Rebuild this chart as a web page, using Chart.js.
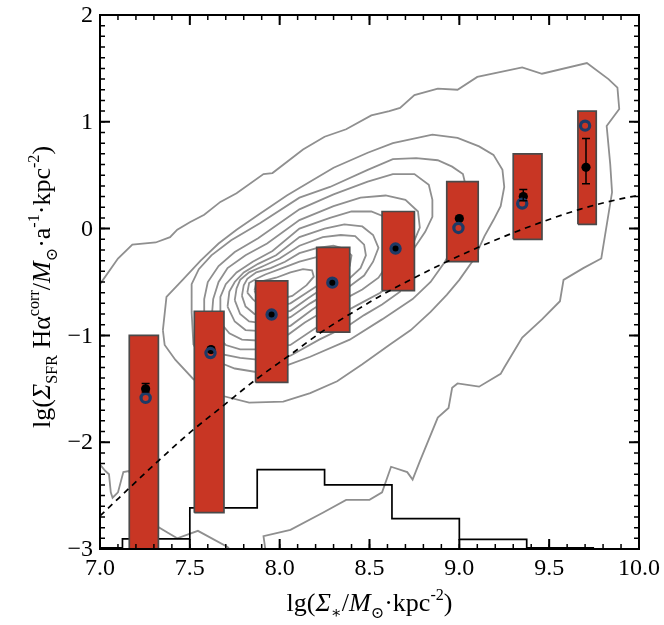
<!DOCTYPE html>
<html>
<head>
<meta charset="utf-8">
<script src="https://cdn.jsdelivr.net/npm/chart.js@4.4.0/dist/chart.umd.min.js"></script>
<style>
html, body { margin: 0; padding: 0; background: #fff; }
#wrap { width: 664px; height: 625px; }
</style>
</head>
<body>
<div id="wrap"><canvas id="myChart" width="664" height="625"></canvas></div>
<script>
// axis ticks
var xMajorTicks = [7.0, 7.5, 8.0, 8.5, 9.0, 9.5, 10.0];
var xTickLabels = ['7.0', '7.5', '8.0', '8.5', '9.0', '9.5', '10.0'];
var yMajorTicks = [-3, -2, -1, 0, 1, 2];
var yTickLabels = ['\u22123', '\u22122', '\u22121', '0', '1', '2'];

// red boxes (x range, y range)
var boxLeft  = [7.163, 7.525, 7.866, 8.206, 8.57, 8.93, 9.30, 9.66];
var boxRight = [7.325, 7.69, 8.045, 8.39, 8.75, 9.105, 9.46, 9.762];
var boxLow   = [-3.05, -2.66, -1.44, -0.97, -0.58, -0.31, -0.10, 0.04];
var boxHigh  = [-1.00, -0.774, -0.49, -0.175, 0.16, 0.44, 0.70, 1.10];

// black points with error bars (0 = too small to show)
var meanX   = [7.254, 7.618, 7.955, 8.293, 8.645, 9.00, 9.356, 9.705];
var meanY   = [-1.50, -1.133, -0.805, -0.506, -0.187, 0.094, 0.30, 0.574];
var errUp   = [0.05, 0, 0, 0, 0, 0, 0.065, 0.27];
var errDown = [0.03, 0, 0, 0, 0, 0, 0.04, 0.155];

// open blue circles
var ringX = [7.254, 7.615, 7.955, 8.293, 8.645, 8.995, 9.35, 9.70];
var ringY = [-1.585, -1.165, -0.805, -0.506, -0.187, 0.006, 0.234, 0.964];

// dashed relation
var dashX = [7.0, 7.315, 7.5, 7.685, 7.87, 8.06, 8.24, 8.48, 8.56, 8.93, 9.30, 9.67, 9.93, 10.0];
var dashY = [-2.69, -2.19, -1.91, -1.66, -1.41, -1.18, -0.96, -0.71, -0.63, -0.31, -0.04, 0.18, 0.29, 0.31];

// histogram (bin edges, heights)
var histEdges  = [7.0, 7.125, 7.5, 7.875, 8.25, 8.625, 9.0, 9.375, 9.75];
var histValues = [-2.99, -2.905, -2.615, -2.257, -2.40, -2.715, -2.91, -2.99];

// density contours, outer to inner
var contour1 = [[7.00,-0.52],[7.10,-0.28],[7.18,-0.15],[7.31,-0.13],[7.39,-0.08],[7.43,-0.01],[7.50,0.06],[7.58,0.13],[7.67,0.25],[7.76,0.33],[7.91,0.51],[7.96,0.52],[8.13,0.74],[8.25,0.86],[8.37,0.93],[8.51,1.06],[8.61,1.10],[8.67,1.13],[8.75,1.25],[8.88,1.31],[8.99,1.30],[9.10,1.42],[9.35,1.51],[9.46,1.45],[9.71,1.55],[9.83,1.40],[9.88,1.32],[9.89,1.12],[9.82,0.96],[9.84,0.60],[9.85,0.34],[9.79,-0.28],[9.69,-0.37],[9.58,-0.48],[9.56,-0.68],[9.46,-0.85],[9.35,-1.02],[9.25,-1.30],[9.23,-1.36],[9.11,-1.48],[8.99,-1.45],[8.96,-1.49],[8.94,-1.68],[8.88,-1.77],[8.78,-2.18],[8.74,-2.35],[8.71,-2.28],[8.62,-2.23],[8.57,-2.47],[8.50,-2.54],[8.37,-2.54],[8.24,-2.66],[8.06,-2.82],[7.91,-2.88],[7.92,-3.0]];
var contour1b = [[7.00,-2.21],[7.03,-2.27],[7.05,-2.30],[7.06,-2.47],[7.07,-2.52],[7.10,-2.47],[7.13,-2.28],[7.16,-2.27],[7.32,-2.79],[7.38,-2.85],[7.43,-2.90],[7.545,-2.83],[7.71,-2.98],[7.72,-3.0]];
var contour2 = [[7.35,-0.95],[7.37,-0.64],[7.46,-0.48],[7.56,-0.30],[7.66,-0.14],[7.76,-0.01],[7.89,0.14],[8.04,0.31],[8.11,0.38],[8.30,0.57],[8.49,0.71],[8.63,0.80],[8.85,0.88],[8.99,0.85],[9.11,0.77],[9.19,0.69],[9.24,0.55],[9.25,0.39],[9.23,0.21],[9.19,0.08],[9.14,-0.07],[9.08,-0.29],[9.00,-0.48],[8.93,-0.62],[8.84,-0.78],[8.73,-0.95],[8.61,-1.09],[8.46,-1.27],[8.32,-1.43],[8.17,-1.54],[8.02,-1.62],[7.83,-1.63],[7.69,-1.57],[7.52,-1.41],[7.42,-1.23],[7.36,-1.09],[7.35,-0.95]];
var contour3 = [[7.52,-1.09],[7.51,-0.78],[7.51,-0.52],[7.55,-0.38],[7.62,-0.25],[7.73,-0.11],[7.89,0.05],[8.11,0.29],[8.28,0.39],[8.49,0.55],[8.63,0.65],[8.76,0.66],[8.88,0.64],[8.96,0.58],[9.02,0.51],[9.04,0.37],[9.04,0.13],[8.99,-0.10],[8.92,-0.31],[8.84,-0.50],[8.74,-0.66],[8.57,-0.85],[8.39,-1.04],[8.17,-1.20],[8.04,-1.28],[7.86,-1.34],[7.75,-1.31],[7.69,-1.27],[7.58,-1.19],[7.52,-1.09]];
var contour4 = [[7.58,-0.96],[7.58,-0.66],[7.60,-0.50],[7.66,-0.35],[7.75,-0.22],[7.88,-0.09],[8.11,0.18],[8.30,0.32],[8.49,0.44],[8.63,0.51],[8.75,0.51],[8.83,0.41],[8.85,0.27],[8.85,0.11],[8.81,-0.03],[8.75,-0.18],[8.71,-0.34],[8.67,-0.59],[8.57,-0.71],[8.47,-0.81],[8.39,-0.90],[8.22,-1.04],[8.06,-1.19],[7.89,-1.23],[7.78,-1.21],[7.69,-1.18],[7.61,-1.09],[7.58,-0.96]];
var contour5 = [[7.62,-0.87],[7.63,-0.66],[7.66,-0.50],[7.71,-0.37],[7.81,-0.25],[7.93,-0.14],[8.11,0.08],[8.30,0.21],[8.45,0.29],[8.59,0.31],[8.70,0.27],[8.77,0.16],[8.78,0.01],[8.74,-0.15],[8.69,-0.31],[8.64,-0.48],[8.56,-0.60],[8.45,-0.70],[8.34,-0.80],[8.20,-0.93],[8.06,-1.09],[7.90,-1.13],[7.78,-1.13],[7.70,-1.09],[7.64,-0.99],[7.62,-0.87]];
var contour6 = [[7.67,-0.80],[7.67,-0.64],[7.70,-0.52],[7.76,-0.41],[7.85,-0.31],[7.96,-0.21],[8.11,0.00],[8.28,0.10],[8.40,0.16],[8.51,0.16],[8.60,0.10],[8.65,-0.01],[8.65,-0.15],[8.61,-0.31],[8.55,-0.46],[8.46,-0.57],[8.36,-0.66],[8.25,-0.77],[8.14,-0.88],[8.05,-0.99],[7.90,-1.05],[7.79,-1.04],[7.72,-0.98],[7.68,-0.90],[7.67,-0.80]];
var contour7 = [[7.71,-0.73],[7.72,-0.59],[7.75,-0.50],[7.80,-0.41],[7.88,-0.33],[7.98,-0.25],[8.11,-0.08],[8.25,0.00],[8.36,0.04],[8.46,0.02],[8.52,-0.06],[8.55,-0.18],[8.52,-0.31],[8.47,-0.44],[8.39,-0.54],[8.29,-0.64],[8.18,-0.76],[8.06,-0.91],[7.90,-0.96],[7.81,-0.95],[7.75,-0.87],[7.71,-0.73]];
var contour8 = [[7.75,-0.67],[7.76,-0.56],[7.78,-0.48],[7.83,-0.41],[7.91,-0.35],[8.00,-0.28],[8.11,-0.16],[8.24,-0.08],[8.34,-0.06],[8.42,-0.07],[8.47,-0.15],[8.48,-0.25],[8.45,-0.37],[8.38,-0.48],[8.28,-0.59],[8.17,-0.70],[8.06,-0.83],[7.92,-0.89],[7.83,-0.87],[7.78,-0.80],[7.75,-0.67]];
var contour9 = [[7.79,-0.63],[7.80,-0.53],[7.82,-0.47],[7.87,-0.41],[7.95,-0.37],[8.03,-0.31],[8.11,-0.23],[8.21,-0.18],[8.30,-0.16],[8.36,-0.19],[8.40,-0.25],[8.39,-0.35],[8.34,-0.45],[8.25,-0.55],[8.16,-0.65],[8.06,-0.77],[7.93,-0.81],[7.86,-0.80],[7.81,-0.73],[7.79,-0.63]];
var contour10 = [[7.82,-0.60],[7.83,-0.51],[7.87,-0.47],[7.92,-0.43],[8.00,-0.38],[8.11,-0.31],[8.20,-0.27],[8.26,-0.27],[8.30,-0.32],[8.29,-0.40],[8.24,-0.50],[8.15,-0.60],[8.06,-0.70],[7.96,-0.74],[7.89,-0.72],[7.85,-0.66],[7.82,-0.60]];
var contour11 = [[7.86,-0.58],[7.87,-0.51],[7.91,-0.49],[7.98,-0.46],[8.06,-0.41],[8.13,-0.38],[8.18,-0.39],[8.19,-0.45],[8.15,-0.53],[8.07,-0.63],[7.98,-0.67],[7.91,-0.66],[7.87,-0.62],[7.86,-0.58]];

var contours = [contour1, contour1b, contour2, contour3, contour4, contour5, contour6,
                contour7, contour8, contour9, contour10, contour11];

function pairs(list) {
    return list.map(function (p) { return {x: p[0], y: p[1]}; });
}

var datasets = [];

contours.forEach(function (c) {
    datasets.push({
        data: pairs(c),
        borderColor: '#8f8f8f',
        borderWidth: 1.8,
        pointRadius: 0,
        fill: false,
        tension: 0,
        order: 6
    });
});

var histPoints = [];
for (var i = 0; i < histValues.length; i++) {
    histPoints.push({x: histEdges[i], y: histValues[i]});
}
histPoints.push({x: histEdges[histEdges.length - 1], y: histValues[histValues.length - 1]});
datasets.push({
    data: histPoints,
    stepped: 'before',
    borderColor: '#000',
    borderWidth: 1.7,
    pointRadius: 0,
    fill: false,
    order: 5
});

for (var b = 0; b < boxLeft.length; b++) {
    datasets.push({
        data: [
            {x: boxLeft[b], y: boxLow[b]},
            {x: boxRight[b], y: boxLow[b]},
            {x: boxRight[b], y: boxHigh[b]},
            {x: boxLeft[b], y: boxHigh[b]},
            {x: boxLeft[b], y: boxLow[b]}
        ],
        borderColor: '#4a4a4a',
        borderWidth: 1.7,
        backgroundColor: '#c83624',
        fill: 'shape',
        pointRadius: 0,
        tension: 0,
        order: 4
    });
}

datasets.push({
    data: dashX.map(function (x, k) { return {x: x, y: dashY[k]}; }),
    borderColor: '#000',
    borderWidth: 1.7,
    borderDash: [6, 5],
    cubicInterpolationMode: 'monotone',
    pointRadius: 0,
    fill: false,
    order: 3
});

datasets.push({
    data: meanX.map(function (x, k) { return {x: x, y: meanY[k]}; }),
    showLine: false,
    pointRadius: 4.6,
    pointBackgroundColor: '#000',
    pointBorderColor: '#000',
    pointBorderWidth: 0,
    order: 2
});

datasets.push({
    data: ringX.map(function (x, k) { return {x: x, y: ringY[k]}; }),
    showLine: false,
    pointRadius: 4.6,
    pointBackgroundColor: 'rgba(0,0,0,0)',
    pointBorderColor: '#1d3a66',
    pointBorderWidth: 3.2,
    order: 1
});

var SERIF = '"Liberation Serif", "DejaVu Serif", serif';

function drawRich(ctx, segs, x, y, size, rotate) {
    ctx.save();
    ctx.translate(x, y);
    if (rotate) ctx.rotate(-Math.PI / 2);
    var total = 0;
    var items = segs.map(function (s) {
        var fs = (s.sub || s.sup) ? size * 0.62 : size;
        var font = (s.it ? 'italic ' : '') + fs + 'px ' + SERIF;
        ctx.font = font;
        var w = ctx.measureText(s.t).width;
        total += w;
        return {s: s, font: font, w: w};
    });
    var cx = -total / 2;
    ctx.fillStyle = '#000';
    ctx.textBaseline = 'alphabetic';
    ctx.textAlign = 'left';
    items.forEach(function (it) {
        ctx.font = it.font;
        var dy = it.s.sub ? size * 0.26 : (it.s.sup ? -size * 0.42 : 0);
        ctx.fillText(it.s.t, cx, dy);
        cx += it.w;
    });
    ctx.restore();
}

var xTitle = [
    {t: 'lg('}, {t: '\u03A3', it: true}, {t: '\u2217', sub: true}, {t: '/'},
    {t: 'M', it: true}, {t: '\u2299', sub: true}, {t: '\u00B7kpc'}, {t: '-2', sup: true}, {t: ')'}
];
var yTitle = [
    {t: 'lg('}, {t: '\u03A3', it: true}, {t: 'SFR', sub: true}, {t: ' H\u03B1'},
    {t: 'corr', sup: true}, {t: '/'}, {t: 'M', it: true}, {t: '\u2299', sub: true},
    {t: '\u00B7a'}, {t: '-1', sup: true}, {t: '\u00B7kpc'}, {t: '-2', sup: true}, {t: ')'}
];

var framePlugin = {
    id: 'frame',
    afterDatasetsDraw: function (chart) {
        var ctx = chart.ctx;
        var xs = chart.scales.x, ys = chart.scales.y;

        // error bars
        ctx.save();
        ctx.strokeStyle = '#000';
        ctx.lineWidth = 1.5;
        for (var k = 0; k < meanX.length; k++) {
            if (!errUp[k] && !errDown[k]) continue;
            var px = xs.getPixelForValue(meanX[k]);
            var top = ys.getPixelForValue(meanY[k] + errUp[k]);
            var bot = ys.getPixelForValue(meanY[k] - errDown[k]);
            ctx.beginPath();
            ctx.moveTo(px, top); ctx.lineTo(px, bot);
            ctx.moveTo(px - 4, top); ctx.lineTo(px + 4, top);
            ctx.moveTo(px - 4, bot); ctx.lineTo(px + 4, bot);
            ctx.stroke();
        }
        ctx.restore();
    },
    afterDraw: function (chart) {
        var ctx = chart.ctx;
        var xs = chart.scales.x, ys = chart.scales.y;
        var a = chart.chartArea;
        ctx.save();
        ctx.strokeStyle = '#000';
        ctx.lineWidth = 2;
        ctx.strokeRect(a.left, a.top, a.right - a.left, a.bottom - a.top);

        ctx.lineWidth = 1.5;
        ctx.beginPath();
        // minor ticks every 0.1
        for (var v = 7.0; v <= 10.0001; v += 0.1) {
            var p = xs.getPixelForValue(v);
            ctx.moveTo(p, a.bottom); ctx.lineTo(p, a.bottom - 5);
            ctx.moveTo(p, a.top); ctx.lineTo(p, a.top + 5);
        }
        for (var w = -3.0; w <= 2.0001; w += 0.1) {
            var q = ys.getPixelForValue(w);
            ctx.moveTo(a.left, q); ctx.lineTo(a.left + 5, q);
            ctx.moveTo(a.right, q); ctx.lineTo(a.right - 5, q);
        }
        ctx.stroke();

        ctx.lineWidth = 2;
        ctx.beginPath();
        xMajorTicks.forEach(function (t) {
            var p = xs.getPixelForValue(t);
            ctx.moveTo(p, a.bottom); ctx.lineTo(p, a.bottom - 10);
            ctx.moveTo(p, a.top); ctx.lineTo(p, a.top + 10);
        });
        yMajorTicks.forEach(function (t) {
            var q = ys.getPixelForValue(t);
            ctx.moveTo(a.left, q); ctx.lineTo(a.left + 10, q);
            ctx.moveTo(a.right, q); ctx.lineTo(a.right - 10, q);
        });
        ctx.stroke();

        // tick labels
        ctx.fillStyle = '#000';
        ctx.font = '24px ' + SERIF;
        ctx.textAlign = 'center';
        ctx.textBaseline = 'middle';
        xMajorTicks.forEach(function (t, k) {
            ctx.fillText(xTickLabels[k], xs.getPixelForValue(t), a.bottom + 20);
        });
        ctx.textAlign = 'right';
        yMajorTicks.forEach(function (t, k) {
            ctx.fillText(yTickLabels[k], a.left - 7, ys.getPixelForValue(t) + 1);
        });

        // axis titles
        drawRich(ctx, xTitle, (a.left + a.right) / 2, 611, 26, false);
        drawRich(ctx, yTitle, 50, (a.top + a.bottom) / 2 + 5, 26, true);
        ctx.restore();
    }
};

var ctx = document.getElementById('myChart').getContext('2d');
var myChart = new Chart(ctx, {
    type: 'line',
    data: { datasets: datasets },
    options: {
        responsive: false,
        animation: false,
        events: [],
        layout: { padding: { left: 100, right: 25, top: 15, bottom: 76 } },
        scales: {
            x: { type: 'linear', min: 7, max: 10, display: false },
            y: { type: 'linear', min: -3, max: 2, display: false }
        },
        plugins: {
            legend: { display: false },
            tooltip: { enabled: false }
        }
    },
    plugins: [framePlugin]
});
</script>
</body>
</html>
